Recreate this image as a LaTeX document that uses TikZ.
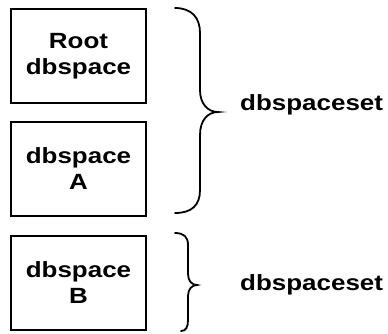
\documentclass[tikz,border=0pt]{standalone}
\usepackage{fontspec}
\setmainfont{Liberation Sans}[FakeStretch=1.18]
\begin{document}
\begin{tikzpicture}[x=1pt,y=-1pt,
  box/.style={draw,line width=1.4pt,minimum width=135pt,minimum height=94pt,inner sep=0pt,
    align=center,font=\fontsize{22}{26}\selectfont\bfseries},
  lbl/.style={anchor=base west,inner sep=0pt,font=\fontsize{22}{26}\selectfont\bfseries},
  brace/.style={line width=1.8pt,line cap=round}]
\useasboundingbox (0,0) rectangle (388,333);
\node[box] (root) at (78.5,56) {Root\\dbspace};
\node[box] (a) at (78.5,169) {dbspace\\A};
\node[box] (b) at (78.5,283) {dbspace\\B};
\node[lbl] (set1) at (240,110) {dbspaceset};
\node[lbl] (set2) at (240,290) {dbspaceset};
\draw[brace] (175,8) .. controls (192,8) and (200,18) .. (200,33) -- (200,90)
  .. controls (200,104) and (208,112) .. (218,112)
  .. controls (208,112) and (200,120) .. (200,135) -- (200,190)
  .. controls (200,205) and (192,213) .. (175,213);
\draw[brace] (175,233) .. controls (184,233) and (188,237) .. (188,245) -- (188,274)
  .. controls (188,281) and (192,285) .. (197,285)
  .. controls (192,285) and (188,289) .. (188,296) -- (188,320)
  .. controls (188,327) and (186,331) .. (181,331);
\end{tikzpicture}
\end{document}
